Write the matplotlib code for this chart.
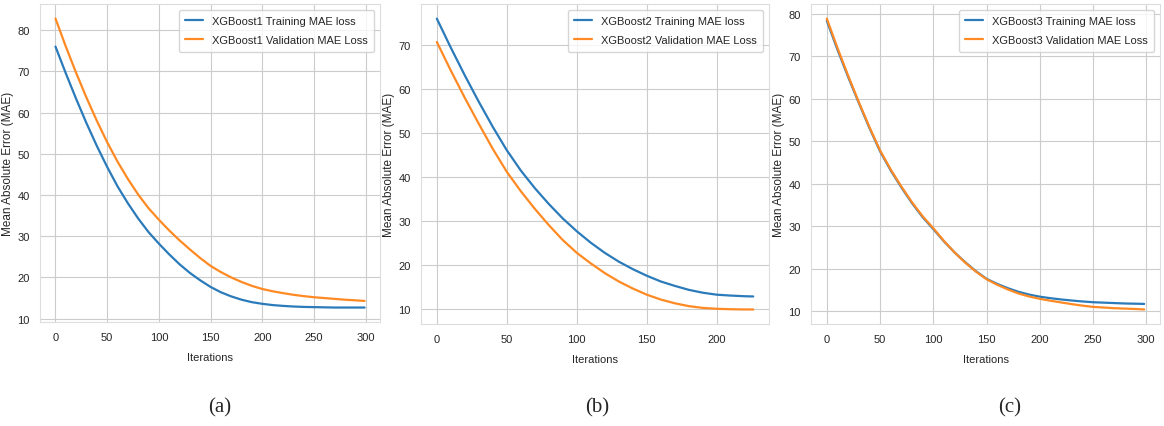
import matplotlib
matplotlib.use("Agg")
import matplotlib.pyplot as plt
import seaborn as sns

# MAE per boosting round, every 10 iterations
iters_a = [0, 10, 20, 30, 40, 50, 60, 70, 80, 90, 100, 110, 120, 130, 140, 150,
           160, 170, 180, 190, 200, 210, 220, 230, 240, 250, 260, 270, 280, 290, 299]
train_a = [76.0, 69.5, 63.3, 57.4, 51.9, 46.8, 42.1, 38.0, 34.3, 31.0, 28.2, 25.6,
           23.2, 21.1, 19.3, 17.7, 16.4, 15.4, 14.6, 14.0, 13.6, 13.3, 13.1, 12.95,
           12.85, 12.8, 12.75, 12.7, 12.7, 12.7, 12.7]
val_a = [82.8, 76.0, 69.6, 63.6, 58.0, 52.8, 48.1, 43.9, 40.1, 36.8, 34.0, 31.4,
         29.0, 26.8, 24.7, 22.8, 21.3, 20.0, 18.9, 17.95, 17.2, 16.65, 16.2, 15.8,
         15.47, 15.2, 15.0, 14.8, 14.6, 14.45, 14.3]

iters_b = [0, 10, 20, 30, 40, 50, 60, 70, 80, 90, 100, 110, 120, 130, 140, 150,
           160, 170, 180, 190, 200, 210, 220, 226]
train_b = [75.9, 69.3, 63.0, 57.0, 51.3, 46.0, 41.4, 37.4, 33.8, 30.5, 27.6, 25.0,
           22.7, 20.7, 19.0, 17.5, 16.2, 15.2, 14.3, 13.65, 13.2, 13.0, 12.85, 12.8]
val_b = [70.6, 64.1, 57.9, 52.0, 46.3, 41.1, 36.7, 32.7, 29.0, 25.6, 22.7, 20.3,
         18.1, 16.2, 14.6, 13.2, 12.1, 11.25, 10.6, 10.2, 10.0, 9.9, 9.85, 9.85]

iters_c = [0, 10, 20, 30, 40, 50, 60, 70, 80, 90, 100, 110, 120, 130, 140, 150,
           160, 170, 180, 190, 200, 210, 220, 230, 240, 250, 260, 270, 280, 290, 298]
train_c = [78.3, 71.5, 65.1, 59.0, 53.1, 47.6, 43.1, 39.1, 35.4, 32.1, 29.3, 26.4,
           23.8, 21.5, 19.4, 17.6, 16.4, 15.4, 14.55, 13.9, 13.4, 13.05, 12.75, 12.5,
           12.28, 12.1, 12.0, 11.9, 11.8, 11.75, 11.7]
val_c = [78.8, 71.9, 65.4, 59.2, 53.3, 47.8, 43.3, 39.3, 35.6, 32.3, 29.5, 26.5,
         23.8, 21.4, 19.3, 17.5, 16.2, 15.1, 14.15, 13.45, 12.9, 12.45, 12.05, 11.65,
         11.3, 11.0, 10.85, 10.7, 10.6, 10.5, 10.4]

models = ["XGBoost1", "XGBoost2", "XGBoost3"]
captions = ["(a)", "(b)", "(c)"]

sns.set_style("whitegrid")
plt.rcParams['font.family'] = ['Liberation Sans', 'DejaVu Sans']

fig = plt.figure(figsize=(11.64, 4.27), dpi=100)
boxes = [[0.0344, 0.2436, 0.2921, 0.7444],
         [0.3617, 0.2389, 0.2990, 0.7491],
         [0.6967, 0.2389, 0.2999, 0.7491]]
data = [(iters_a, train_a, val_a), (iters_b, train_b, val_b), (iters_c, train_c, val_c)]
cap_x = [220 / 1164, 597 / 1164, 1010 / 1164]

for i in range(3):
    ax = fig.add_axes(boxes[i])
    x, tr, va = data[i]
    ax.plot(x, tr, color="#2b7bba", lw=1.6, label=models[i] + " Training MAE loss")
    ax.plot(x, va, color="#ff8a24", lw=1.6, label=models[i] + " Validation MAE Loss")
    ax.set_xlabel("Iterations", fontsize=8, labelpad=7)
    ax.set_ylabel("Mean Absolute Error (MAE)", fontsize=8.5, labelpad=2)
    ax.tick_params(labelsize=8, pad=4)
    for s in ax.spines.values():
        s.set_color("#dddddd")
    ax.legend(loc="upper right", fontsize=8, frameon=True, handlelength=1.6,
              labelspacing=0.8, borderpad=0.6)
    fig.text(cap_x[i], 1 - 408 / 427, captions[i], fontsize=15,
             family="Liberation Serif", ha="center", va="center")

fig.savefig("out.png", dpi=100)
